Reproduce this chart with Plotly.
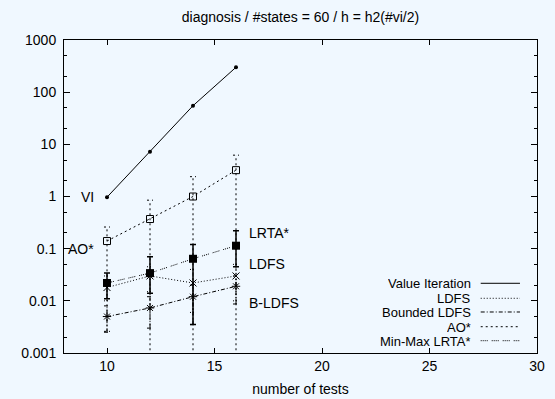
import math
import plotly.graph_objects as go

# ---- data -------------------------------------------------------------
tests = [10, 12, 14, 16]

vi = [0.97, 7.2, 55, 300]

ao = [0.14, 0.37, 1.0, 3.2]
ao_lo = [0.0026, 0.0003, 0.0003, 0.0003]
ao_hi = [0.26, 0.85, 2.4, 6.2]

lrta = [0.022, 0.034, 0.064, 0.114]
lrta_lo = [0.011, 0.014, 0.0035, 0.045]
lrta_hi = [0.034, 0.07, 0.12, 0.22]

ldfs = [0.018, 0.030, 0.022, 0.030]
ldfs_lo = [0.010, 0.015, 0.006, 0.010]
ldfs_hi = [0.030, 0.045, 0.040, 0.050]

bldfs = [0.005, 0.0073, 0.012, 0.019]
bldfs_lo = [0.0025, 0.003, 0.0035, 0.0087]
bldfs_hi = [0.008, 0.012, 0.020, 0.030]

legend_names = ["Value Iteration", "LDFS", "Bounded LDFS", "AO*", "Min-Max LRTA*"]

y_major = [0.001, 0.01, 0.1, 1, 10, 100, 1000]
y_major_text = ["0.001", "0.01", "0.1", "1", "10", "100", "1000"]
y_minor = [m * 10.0 ** e for e in range(-3, 3) for m in (2, 5)]
x_ticks = [10, 15, 20, 25, 30]

# ---- styles -----------------------------------------------------------
FONT = "Liberation Sans, Arial, Helvetica, sans-serif"
BG = "#F0F8FF"
DASH = {
    "Value Iteration": "solid",
    "LDFS": "1px,2px",
    "Bounded LDFS": "4px,2px,1px,2px",
    "AO*": "2px,3px",
    "Min-Max LRTA*": "1px,1px,1px,1px,1px,1px,1px,4px",
}
CAP = 0.14  # half-width of error-bar caps, in x units


def bar_segments(xs, lo, hi):
    """Vertical error bars with caps as one broken polyline."""
    sx, sy = [], []
    for x, a, b in zip(xs, lo, hi):
        sx += [x, x, None, x - CAP, x + CAP, None, x - CAP, x + CAP, None]
        sy += [a, b, None, a, a, None, b, b, None]
    return sx, sy


fig = go.Figure()

# dashed error bars (Plotly's own error bars are always solid)
for lo, hi, name in [(ao_lo, ao_hi, "AO*"),
                     (ldfs_lo, ldfs_hi, "LDFS"),
                     (bldfs_lo, bldfs_hi, "Bounded LDFS")]:
    sx, sy = bar_segments(tests, lo, hi)
    fig.add_trace(go.Scatter(x=sx, y=sy, mode="lines", showlegend=False,
                             line=dict(color="black", width=1, dash=DASH[name]),
                             hoverinfo="skip"))

fig.add_trace(go.Scatter(
    x=tests, y=vi, name="Value Iteration", mode="lines+markers",
    line=dict(color="black", width=1),
    marker=dict(symbol="circle", size=4, color="black")))

fig.add_trace(go.Scatter(
    x=tests, y=ao, name="AO*", mode="lines+markers",
    line=dict(color="black", width=1, dash=DASH["AO*"]),
    marker=dict(symbol="square-open", size=7, color="black",
                line=dict(width=1, color="black"))))

fig.add_trace(go.Scatter(
    x=tests, y=lrta, name="Min-Max LRTA*", mode="lines+markers",
    line=dict(color="black", width=1, dash=DASH["Min-Max LRTA*"]),
    marker=dict(symbol="square", size=8, color="black"),
    error_y=dict(type="data", symmetric=False,
                 array=[h - v for h, v in zip(lrta_hi, lrta)],
                 arrayminus=[v - l for v, l in zip(lrta, lrta_lo)],
                 color="black", thickness=1.5, width=3)))

fig.add_trace(go.Scatter(
    x=tests, y=ldfs, name="LDFS", mode="lines+markers",
    line=dict(color="black", width=1, dash=DASH["LDFS"]),
    marker=dict(symbol="x-thin-open", size=7, color="black",
                line=dict(width=1, color="black"))))

fig.add_trace(go.Scatter(
    x=tests, y=bldfs, name="Bounded LDFS", mode="lines+markers",
    line=dict(color="black", width=1, dash=DASH["Bounded LDFS"]),
    marker=dict(symbol="asterisk-open", size=7, color="black",
                line=dict(width=1, color="black"))))

# ---- series labels inside the plot -----------------------------------
labels = [
    ("VI", tests[0] - 0.5, vi[0], "right"),
    ("AO*", tests[0] - 0.5, 0.1, "right"),
    ("LRTA*", tests[-1] + 0.5, 0.2, "left"),
    ("LDFS", tests[-1] + 0.5, 0.05, "left"),
    ("B-LDFS", tests[-1] + 0.5, 0.009, "left"),
]
annotations = []
for text, x, y, anchor in labels:
    # annotation y on a log axis is given in log10 units
    annotations.append(dict(x=x, y=math.log10(y), xref="x", yref="y",
                            yanchor="middle", xanchor=anchor, text=text,
                            showarrow=False,
                            font=dict(family=FONT, size=14, color="black")))

# ---- legend: right-aligned names, line samples to their right --------
shapes = []
row_y = [0.2227, 0.1748, 0.1310, 0.0840, 0.0393]
for name, ry in zip(legend_names, row_y):
    annotations.append(dict(x=0.862, y=ry, xref="paper", yref="paper",
                            xanchor="right", yanchor="middle", text=name,
                            showarrow=False, height=14, borderpad=0,
                            font=dict(family=FONT, size=13, color="black")))
    shapes.append(dict(type="line", xref="paper", yref="paper",
                       x0=0.881, x1=0.964, y0=ry, y1=ry,
                       line=dict(color="black", width=1, dash=DASH[name])))

fig.update_layout(
    width=555, height=399, autosize=False,
    margin=dict(l=64, r=18, t=40, b=46),
    paper_bgcolor=BG, plot_bgcolor=BG,
    showlegend=False,
    font=dict(family=FONT, size=14, color="black"),
    title=dict(text="diagnosis / #states = 60 / h = h2(#vi/2)",
               x=0.5, xref="paper", y=0.957, yanchor="middle",
               font=dict(family=FONT, size=14, color="black")),
    annotations=annotations, shapes=shapes,
    xaxis=dict(range=[8, 30], tickvals=x_ticks, ticks="inside", ticklen=5,
               showline=True, linecolor="black", linewidth=1, mirror="ticks",
               showgrid=False, zeroline=False, tickcolor="black",
               automargin=False,
               title=dict(text="number of tests", standoff=11,
                          font=dict(family=FONT, size=14))),
    yaxis=dict(type="log", range=[-3, 3], tickvals=y_major,
               ticktext=y_major_text, ticks="inside", ticklen=6,
               showline=True, linecolor="black", linewidth=1, mirror="ticks",
               showgrid=False, zeroline=False, tickcolor="black",
               automargin=False, ticklabelstandoff=4),
    yaxis2=dict(type="log", range=[-3, 3], overlaying="y", side="left",
                tickvals=y_minor, ticks="inside", ticklen=3, mirror="ticks",
                showticklabels=False, showgrid=False, zeroline=False,
                showline=False, tickcolor="black", automargin=False),
)

# empty trace so the minor-tick axis is drawn
fig.add_trace(go.Scatter(x=[None], y=[None], yaxis="y2", showlegend=False))

fig.write_html("out.html")
